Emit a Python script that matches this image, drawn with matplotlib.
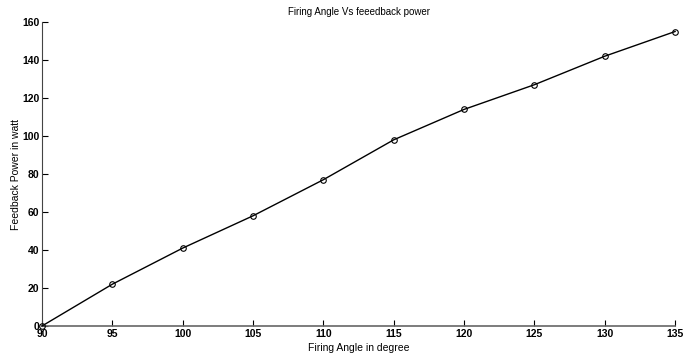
import matplotlib
matplotlib.use('Agg')
import matplotlib.pyplot as plt

plt.rcParams['font.family'] = ['Liberation Sans', 'DejaVu Sans']

# datos
angulos = [90, 95, 100, 105, 110, 115, 120, 125, 130, 135]
potencia = [0, 22, 41, 58, 77, 98, 114, 127, 142, 155]
xticks = [90, 95, 100, 105, 110, 115, 120, 125, 130, 135]
yticks = [0, 20, 40, 60, 80, 100, 120, 140, 160]

fig = plt.figure(figsize=(6.84, 3.55), dpi=100)
ax = fig.add_axes([0.0614, 0.0817, 0.9256, 0.8563])

ax.plot(angulos, potencia, color='black', linewidth=1.0, marker='o',
        markersize=4, markerfacecolor='none', markeredgewidth=0.8,
        clip_on=False, zorder=3)

ax.set_xlim(90, 135)
ax.set_ylim(0, 160)
ax.set_xticks(xticks)
ax.set_yticks(yticks)
ax.tick_params(direction='in', length=4, width=0.8, labelsize=7.5, pad=2)
for lbl in ax.get_xticklabels() + ax.get_yticklabels():
    lbl.set_fontweight('bold')

ax.spines['top'].set_visible(False)
ax.spines['right'].set_visible(False)
ax.spines['left'].set_color('#444444')
ax.spines['bottom'].set_color('#666666')
ax.spines['bottom'].set_linewidth(1.2)

ax.set_xlabel('Firing Angle in degree', fontsize=7.5, labelpad=3)
ax.set_ylabel('Feedback Power in watt', fontsize=7.5, labelpad=1)
ax.set_title('Firing Angle Vs feeedback power', fontsize=7, pad=5)

fig.savefig('out.png', dpi=100)
